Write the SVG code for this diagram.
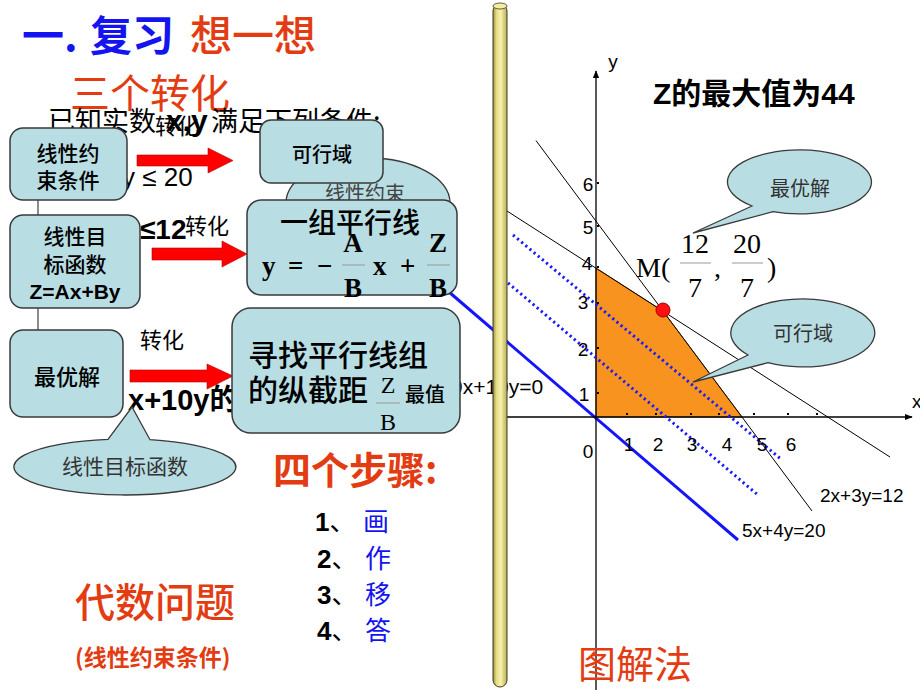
<svg xmlns="http://www.w3.org/2000/svg" width="920" height="690" viewBox="0 0 920 690">
<defs>
<linearGradient id="pole" x1="0" y1="0" x2="1" y2="0">
<stop offset="0" stop-color="#9a9040"/>
<stop offset="0.25" stop-color="#e6dc84"/>
<stop offset="0.55" stop-color="#f8f2ac"/>
<stop offset="1" stop-color="#b8ac58"/>
</linearGradient>
<marker id="ah" viewBox="0 0 10 10" refX="9" refY="5" markerWidth="8" markerHeight="8" orient="auto" markerUnits="userSpaceOnUse">
<path d="M0,1 L10,5 L0,9 Z" fill="#000"/>
</marker>
<style>
.cjk{font-family:"Noto Sans CJK SC","Liberation Sans",sans-serif}
.sans{font-family:"Liberation Sans","Noto Sans CJK SC",sans-serif}
.serif{font-family:"Liberation Serif","Noto Sans CJK SC",serif}
.box{fill:#b8dde2;stroke:#3a3a3a;stroke-width:1.5}
.call{fill:#b8dde2;stroke:#3a3a3a;stroke-width:1.3}
.red{fill:#e33c12}
.arrow{fill:#ff0000;stroke:#b00000;stroke-width:0.6}
.ax{stroke:#000;stroke-width:1.3;fill:none}
.thin{stroke:#000;stroke-width:1;fill:none}
.dot{stroke:#1a1aff;stroke-width:3;stroke-dasharray:2.2 3.2;fill:none}
.frac{stroke:#999;stroke-width:1}
.lbl{font-family:"Liberation Sans",sans-serif;font-size:19px;fill:#000}
</style>
</defs>
<rect width="920" height="690" fill="#fff"/>

<!-- titles -->
<g id="title">
<text class="cjk" y="51" font-size="42" font-weight="bold"><tspan x="22" fill="#1414f0">一.</tspan><tspan x="90" fill="#1414f0">复习</tspan></text>
<text class="cjk red" x="190" y="51" font-size="42" font-weight="500">想一想</text>
<text class="cjk red" x="70" y="108" font-size="40">三个转化</text>
</g>

<!-- partially hidden problem text -->
<g id="problem">
<text class="cjk" y="131" font-size="27" fill="#000"><tspan x="48">已知实数</tspan><tspan x="166" class="sans" font-weight="bold" font-size="30">x,y</tspan><tspan x="211">满足下列条件:</tspan></text>
<text class="cjk" x="155" y="134" font-size="22" fill="#000">转化</text>
<text class="sans" x="122" y="186" font-size="26" fill="#000">y ≤ 20</text>
<text class="sans" x="140" y="239" font-size="28" font-weight="bold" fill="#000">≤12</text>
<text class="cjk" x="185" y="234" font-size="22" fill="#000">转化</text>
<text class="cjk" x="140" y="348" font-size="22" fill="#000">转化</text>
<text class="sans" x="128" y="410" font-size="29" font-weight="bold" fill="#000">x+10y<tspan class="cjk" font-weight="bold">的</tspan></text>
<text class="sans" x="451" y="394" font-size="21" fill="#000">9x+10y=0</text>
</g>

<!-- callout behind 可行域 box -->
<g id="callout-constraint">
<ellipse class="call" cx="368" cy="203" rx="82" ry="45"/>
<text class="cjk" x="365" y="201" font-size="20" fill="#444" text-anchor="middle">线性约束</text>
</g>

<!-- connectors -->
<g id="connectors">
<line x1="38" y1="200" x2="38" y2="215" stroke="#666" stroke-width="1.5"/>
<line x1="38" y1="308" x2="38" y2="330" stroke="#666" stroke-width="1.5"/>
<path class="arrow" d="M137,155 L208,155 L208,148 L233,160.5 L208,173 L208,166 L137,166 Z"/>
<path class="arrow" d="M152,248 L222,248 L222,241 L247,254 L222,267 L222,260 L152,260 Z"/>
<path class="arrow" d="M130,370 L207,370 L207,364 L233,376 L207,389 L207,382 L130,382 Z"/>
<line x1="449" y1="292" x2="738" y2="540" stroke="#1414ff" stroke-width="3"/>
</g>

<!-- left boxes -->
<g id="box-constraint">
<rect class="box" x="10" y="128" width="117" height="72" rx="13"/>
<text class="cjk" x="68" y="161" font-size="21" font-weight="500" text-anchor="middle">线性约</text>
<text class="cjk" x="68" y="188" font-size="21" font-weight="500" text-anchor="middle">束条件</text>
</g>
<g id="box-objective">
<rect class="box" x="10" y="215" width="130" height="93" rx="13"/>
<text class="cjk" x="75" y="244" font-size="21" font-weight="500" text-anchor="middle">线性目</text>
<text class="cjk" x="75" y="272" font-size="21" font-weight="500" text-anchor="middle">标函数</text>
<text class="sans" x="75" y="299" font-size="21" font-weight="bold" text-anchor="middle">Z=Ax+By</text>
</g>
<g id="box-optimal">
<rect class="box" x="10" y="330" width="113" height="87" rx="13"/>
<text class="cjk" x="67" y="385" font-size="22" font-weight="500" text-anchor="middle">最优解</text>
</g>

<!-- right boxes -->
<g id="box-feasible">
<rect class="box" x="260" y="120" width="123" height="63" rx="11"/>
<text class="cjk" x="322" y="162" font-size="20" font-weight="500" text-anchor="middle">可行域</text>
</g>
<g id="box-parallel">
<rect class="box" x="247" y="200" width="210" height="95" rx="14"/>
<text class="cjk" x="350" y="233" font-size="28" font-weight="500" text-anchor="middle">一组平行线</text>
<g class="serif" font-weight="bold" font-size="27">
<text x="262" y="275">y</text>
<text x="288" y="275">=</text>
<text x="317" y="275">−</text>
<text x="353" y="252" text-anchor="middle">A</text>
<text x="353" y="297" text-anchor="middle">B</text>
<text x="373" y="275">x</text>
<text x="400" y="275">+</text>
<text x="438" y="252" text-anchor="middle">Z</text>
<text x="438" y="297" text-anchor="middle">B</text>
</g>
<line class="frac" x1="342" y1="265" x2="365" y2="265"/>
<line class="frac" x1="427" y1="265" x2="450" y2="265"/>
</g>
<g id="box-intercept">
<rect class="box" x="232" y="308" width="228" height="125" rx="19"/>
<text class="cjk" x="248" y="366" font-size="30" font-weight="500">寻找平行线组</text>
<text class="cjk" x="248" y="401" font-size="30" font-weight="500">的纵截距</text>
<text class="serif" x="388" y="393" font-size="24" text-anchor="middle">Z</text>
<line class="frac" x1="376" y1="403" x2="400" y2="403"/>
<text class="serif" x="388" y="430" font-size="24" text-anchor="middle">B</text>
<text class="cjk" x="405" y="402" font-size="20" font-weight="500">最值</text>
</g>

<!-- callout objective -->
<g id="callout-objective">
<path class="call" d="M108,439.3 L132,407 L150,439.7 A111,28 0 1 1 108,439.3 Z"/>
<text class="cjk" x="125" y="474" font-size="21" fill="#333" text-anchor="middle">线性目标函数</text>
</g>

<!-- steps -->
<g id="steps">
<text class="cjk red" x="273" y="484" font-size="38" font-weight="bold">四个步骤:</text>
<text x="315" y="531" font-size="26"><tspan class="sans" font-weight="bold">1</tspan><tspan class="cjk">、</tspan><tspan x="363" class="cjk" fill="#1414f0">画</tspan></text>
<text x="317" y="568" font-size="26"><tspan class="sans" font-weight="bold">2</tspan><tspan class="cjk">、</tspan><tspan x="365" class="cjk" fill="#1414f0">作</tspan></text>
<text x="317" y="604" font-size="26"><tspan class="sans" font-weight="bold">3</tspan><tspan class="cjk">、</tspan><tspan x="365" class="cjk" fill="#1414f0">移</tspan></text>
<text x="317" y="640" font-size="26"><tspan class="sans" font-weight="bold">4</tspan><tspan class="cjk">、</tspan><tspan x="365" class="cjk" fill="#1414f0">答</tspan></text>
</g>

<g id="algebra">
<text class="cjk red" x="75" y="617" font-size="40" font-weight="500">代数问题</text>
<text class="cjk red" x="75" y="666" font-size="23" font-weight="bold">(线性约束条件)</text>
</g>

<!-- graph -->
<g id="graph">
<polygon points="596,417 596,268 663,311 742,417" fill="#f7931e" stroke="#9a5600" stroke-width="1"/>
<line class="ax" x1="507" y1="417" x2="912" y2="417" marker-end="url(#ah)"/>
<line class="ax" x1="596" y1="690" x2="596" y2="71" marker-end="url(#ah)"/>
<line class="thin" x1="536" y1="140.6" x2="812" y2="511"/>
<line class="thin" x1="507" y1="211" x2="890" y2="457"/>
<line class="dot" x1="513" y1="235" x2="782" y2="460"/>
<line class="dot" x1="508" y1="283" x2="758" y2="495"/>
<g fill="#000">
<rect x="626" y="413" width="2" height="2"/><rect x="655" y="413" width="2" height="2"/><rect x="690" y="413" width="2" height="2"/><rect x="718" y="413" width="2" height="2"/><rect x="753" y="413" width="2" height="2"/><rect x="787" y="413" width="2" height="2"/><rect x="816" y="413" width="2" height="2"/>
<rect x="597" y="392" width="2" height="2"/><rect x="597" y="347" width="2" height="2"/><rect x="597" y="302" width="2" height="2"/><rect x="597" y="266" width="2" height="2"/><rect x="597" y="225" width="2" height="2"/><rect x="597" y="182" width="2" height="2"/>
</g>
<g class="lbl">
<text x="613" y="68" text-anchor="middle">y</text>
<text x="912" y="408">x</text>
<text x="588" y="191" text-anchor="middle">6</text>
<text x="588" y="234" text-anchor="middle">5</text>
<text x="587" y="270" text-anchor="middle">4</text>
<text x="583" y="309" text-anchor="middle">3</text>
<text x="583" y="356" text-anchor="middle">2</text>
<text x="584" y="401" text-anchor="middle">1</text>
<text x="588" y="458" text-anchor="middle">0</text>
<text x="629" y="451" text-anchor="middle">1</text>
<text x="658" y="451" text-anchor="middle">2</text>
<text x="692" y="451" text-anchor="middle">3</text>
<text x="727" y="451" text-anchor="middle">4</text>
<text x="762" y="451" text-anchor="middle">5</text>
<text x="791" y="451" text-anchor="middle">6</text>
<text x="820" y="502">2x+3y=12</text>
<text x="742" y="537">5x+4y=20</text>
</g>
<circle cx="663" cy="310" r="7" fill="#ff1010" stroke="#a00000" stroke-width="1"/>
<g class="serif" font-size="28" fill="#000">
<text x="636" y="277">M(</text>
<text x="695" y="253" text-anchor="middle">12</text>
<text x="695" y="297" text-anchor="middle">7</text>
<text x="714" y="277">,</text>
<text x="747" y="253" text-anchor="middle">20</text>
<text x="747" y="297" text-anchor="middle">7</text>
<text x="767" y="277">)</text>
</g>
<line class="frac" x1="680" y1="263" x2="711" y2="263"/>
<line class="frac" x1="732" y1="263" x2="763" y2="263"/>
<text class="sans" x="653" y="104" font-size="30" font-weight="bold">Z<tspan class="cjk" font-weight="bold">的最大值为</tspan>44</text>
<text class="cjk red" x="578" y="678" font-size="38">图解法</text>
</g>

<g id="callout-optimal">
<path class="call" d="M752,206 L693,233 L773,211.7 A72,32 0 1 0 752,206 Z"/>
<text class="cjk" x="800" y="196" font-size="20" fill="#333" text-anchor="middle">最优解</text>
</g>
<g id="callout-feasible">
<path class="call" d="M748,355 L693,382 L768,362.7 A72,34 0 1 0 748,355 Z"/>
<text class="cjk" x="803" y="341" font-size="20" fill="#333" text-anchor="middle">可行域</text>
</g>

<!-- pole -->
<g id="pole">
<rect x="493" y="4" width="14" height="683" rx="7" fill="url(#pole)" stroke="#3a3a20" stroke-width="1"/>
<ellipse cx="500" cy="6" rx="7" ry="3" fill="#f4eea4" stroke="#3a3a20" stroke-width="0.8"/>
</g>
</svg>
